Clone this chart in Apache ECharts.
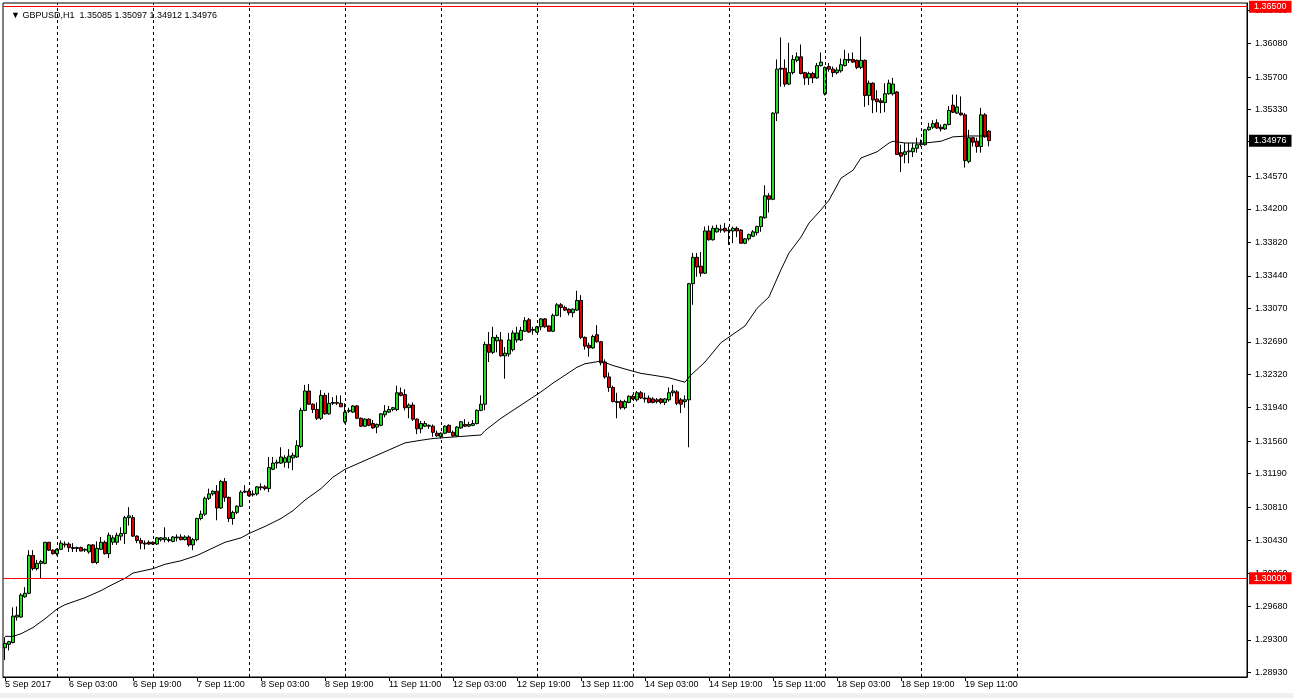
<!DOCTYPE html>
<html><head><meta charset="utf-8">
<script src="https://cdn.jsdelivr.net/npm/echarts@6/dist/echarts.min.js"></script>
<style>html,body{margin:0;padding:0;background:#fff;}#c{width:1293px;height:698px;}</style>
</head><body><div id="c"></div>
<script>
// ---------- DATA (GBPUSD H1, 5 Sep 2017 11:00 -> 19 Sep 2017 17:00) ----------
const openP = [1.2921,1.2925,1.2927,1.2956,1.2956,1.2979,1.2983,1.3026,1.3011,1.3017,
1.3017,1.3041,1.3032,1.3028,1.3033,1.3038,1.3039,1.3035,1.3034,1.3035,
1.3032,1.3030,1.3038,1.3018,1.3033,1.3041,1.3028,1.3041,1.3041,1.3048,
1.3051,1.3069,1.3069,1.3048,1.3043,1.3040,1.3041,1.3041,1.3039,1.3044,
1.3044,1.3044,1.3042,1.3046,1.3047,1.3044,1.3047,1.3038,1.3044,1.3068,
1.3073,1.3091,1.3096,1.3099,1.3080,1.3110,1.3092,1.3068,1.3075,1.3082,
1.3098,1.3099,1.3096,1.3096,1.3104,1.3104,1.3102,1.3124,1.3131,1.3131,
1.3132,1.3132,1.3137,1.3138,1.3150,1.3191,1.3213,1.3198,1.3192,1.3182,
1.3208,1.3187,1.3199,1.3199,1.3199,1.3178,1.3190,1.3189,1.3196,1.3182,
1.3173,1.3181,1.3176,1.3172,1.3174,1.3186,1.3189,1.3192,1.3192,1.3211,
1.3209,1.3194,1.3197,1.3181,1.3170,1.3173,1.3173,1.3173,1.3165,1.3161,
1.3165,1.3174,1.3166,1.3162,1.3171,1.3175,1.3173,1.3174,1.3176,1.3191,
1.3198,1.3266,1.3257,1.3270,1.3271,1.3253,1.3255,1.3260,1.3271,1.3271,
1.3281,1.3294,1.3282,1.3280,1.3286,1.3295,1.3287,1.3281,1.3299,1.3311,
1.3308,1.3306,1.3302,1.3305,1.3316,1.3274,1.3265,1.3262,1.3277,1.3269,
1.3246,1.3229,1.3217,1.3201,1.3201,1.3194,1.3200,1.3207,1.3203,1.3211,
1.3205,1.3205,1.3204,1.3203,1.3204,1.3200,1.3203,1.3211,1.3212,1.3203,
1.3201,1.3203,1.3335,1.3365,1.3355,1.3347,1.3395,1.3385,1.3394,1.3396,
1.3398,1.3395,1.3395,1.3398,1.3396,1.3381,1.3386,1.3389,1.3393,1.3400,
1.3410,1.3435,1.3431,1.3529,1.3580,1.3580,1.3562,1.3575,1.3589,1.3593,
1.3575,1.3569,1.3574,1.3569,1.3583,1.3551,1.3582,1.3579,1.3575,1.3577,
1.3583,1.3589,1.3590,1.3589,1.3581,1.3589,1.3549,1.3563,1.3545,1.3543,
1.3541,1.3551,1.3551,1.3553,1.3484,1.3482,1.3485,1.3485,1.3489,1.3493,
1.3493,1.3510,1.3513,1.3518,1.3513,1.3511,1.3516,1.3538,1.3529,1.3529,
1.3527,1.3474,1.3501,1.3497,1.3491,1.3527,1.35085];
const highP = [1.2933,1.2929,1.2967,1.2968,1.2983,1.2990,1.3032,1.3032,1.3021,1.3021,
1.3041,1.3041,1.3033,1.3034,1.3043,1.3042,1.3041,1.3040,1.3036,1.3036,
1.3034,1.3039,1.3039,1.3042,1.3047,1.3043,1.3052,1.3049,1.3052,1.3058,
1.3071,1.3081,1.3072,1.3049,1.3046,1.3043,1.3043,1.3042,1.3047,1.3047,
1.3058,1.3047,1.3048,1.3050,1.3050,1.3049,1.3049,1.3046,1.3069,1.3077,
1.3093,1.3102,1.3100,1.3106,1.3112,1.3114,1.3093,1.3077,1.3083,1.3100,
1.3106,1.3101,1.3100,1.3105,1.3108,1.3106,1.3138,1.3138,1.3135,1.3149,
1.3140,1.3147,1.3143,1.3157,1.3194,1.3220,1.3221,1.3199,1.3200,1.3214,
1.3211,1.3211,1.3206,1.3208,1.3208,1.3199,1.3194,1.3197,1.3197,1.3183,
1.3182,1.3182,1.3180,1.3176,1.3188,1.3197,1.3196,1.3195,1.3219,1.3217,
1.3215,1.3199,1.3200,1.3182,1.3179,1.3179,1.3175,1.3175,1.3168,1.3166,
1.3174,1.3175,1.3168,1.3173,1.3179,1.3181,1.3178,1.3180,1.3192,1.3208,
1.3269,1.3280,1.3286,1.3277,1.3280,1.3263,1.3279,1.3282,1.3286,1.3286,
1.3297,1.3296,1.3286,1.3287,1.3296,1.3296,1.3288,1.3301,1.3313,1.3313,
1.3310,1.3307,1.3307,1.3327,1.3322,1.3275,1.3268,1.3277,1.3288,1.3270,
1.3249,1.3234,1.3219,1.3211,1.3203,1.3203,1.3208,1.3209,1.3213,1.3213,
1.3211,1.3208,1.3206,1.3205,1.3205,1.3205,1.3217,1.3220,1.3214,1.3205,
1.3208,1.3336,1.3370,1.3370,1.3371,1.3400,1.3401,1.3401,1.3402,1.3402,
1.3404,1.3400,1.3400,1.3400,1.3397,1.3387,1.3392,1.3396,1.3401,1.3412,
1.3447,1.3438,1.3530,1.3590,1.3615,1.3590,1.3609,1.3595,1.3598,1.3607,
1.3576,1.3576,1.3576,1.3586,1.3598,1.3582,1.3586,1.3582,1.3581,1.3591,
1.3601,1.3597,1.3598,1.3590,1.3616,1.3590,1.3566,1.3564,1.3555,1.3546,
1.3563,1.3567,1.3569,1.3554,1.3493,1.3495,1.3495,1.3495,1.3501,1.3499,
1.3511,1.3518,1.3521,1.3522,1.3516,1.3517,1.3537,1.3550,1.3550,1.3548,
1.3529,1.3510,1.3502,1.3501,1.3535,1.3529,1.35097];
const lowP = [1.2907,1.2918,1.2926,1.2952,1.2955,1.2978,1.2982,1.3009,1.3009,1.3000,
1.3016,1.3031,1.3027,1.3026,1.3032,1.3035,1.3030,1.3030,1.3030,1.3031,
1.3030,1.3028,1.3017,1.3016,1.3032,1.3027,1.3023,1.3038,1.3038,1.3043,
1.3039,1.3060,1.3047,1.3040,1.3033,1.3033,1.3038,1.3038,1.3038,1.3042,
1.3041,1.3041,1.3041,1.3042,1.3043,1.3043,1.3036,1.3032,1.3042,1.3066,
1.3071,1.3089,1.3094,1.3066,1.3079,1.3087,1.3064,1.3061,1.3073,1.3081,
1.3097,1.3093,1.3093,1.3094,1.3100,1.3100,1.3098,1.3123,1.3125,1.3130,
1.3126,1.3125,1.3123,1.3137,1.3148,1.3190,1.3197,1.3188,1.3180,1.3180,
1.3186,1.3186,1.3197,1.3197,1.3195,1.3176,1.3188,1.3188,1.3181,1.3172,
1.3172,1.3173,1.3170,1.3165,1.3173,1.3183,1.3188,1.3190,1.3190,1.3207,
1.3191,1.3182,1.3179,1.3164,1.3165,1.3172,1.3170,1.3161,1.3161,1.3159,
1.3164,1.3166,1.3161,1.3161,1.3170,1.3172,1.3172,1.3173,1.3175,1.3190,
1.3191,1.3246,1.3255,1.3257,1.3252,1.3227,1.3252,1.3258,1.3268,1.3270,
1.3280,1.3279,1.3277,1.3279,1.3282,1.3285,1.3281,1.3280,1.3298,1.3297,
1.3304,1.3299,1.3297,1.3304,1.3272,1.3260,1.3252,1.3261,1.3268,1.3242,
1.3227,1.3212,1.3200,1.3182,1.3192,1.3192,1.3199,1.3203,1.3201,1.3204,
1.3200,1.3199,1.3199,1.3199,1.3198,1.3197,1.3201,1.3207,1.3197,1.3188,
1.3194,1.3149,1.3311,1.3343,1.3343,1.3346,1.3384,1.3384,1.3393,1.3393,
1.3393,1.3379,1.3381,1.3388,1.3381,1.3380,1.3384,1.3388,1.3390,1.3394,
1.3409,1.3416,1.3430,1.3520,1.3559,1.3559,1.3561,1.3573,1.3587,1.3573,
1.3561,1.3561,1.3563,1.3568,1.3582,1.3549,1.3576,1.3570,1.3573,1.3575,
1.3582,1.3586,1.3586,1.3579,1.3579,1.3536,1.3538,1.3529,1.3530,1.3529,
1.3530,1.3550,1.3549,1.3482,1.3462,1.3472,1.3472,1.3479,1.3484,1.3491,
1.3492,1.3509,1.3511,1.3511,1.3508,1.3510,1.3515,1.3529,1.3528,1.3526,
1.3467,1.3472,1.3491,1.3484,1.3484,1.3501,1.34912];
const closeP = [1.2926,1.2928,1.2957,1.2958,1.2981,1.2983,1.3026,1.3011,1.3017,1.3019,
1.3041,1.3032,1.3028,1.3033,1.3040,1.3039,1.3035,1.3034,1.3035,1.3031,
1.3033,1.3038,1.3018,1.3034,1.3041,1.3028,1.3049,1.3046,1.3049,1.3051,
1.3069,1.3071,1.3048,1.3043,1.3040,1.3039,1.3039,1.3039,1.3046,1.3046,
1.3046,1.3043,1.3047,1.3047,1.3044,1.3047,1.3038,1.3044,1.3068,1.3073,
1.3091,1.3096,1.3099,1.3080,1.3110,1.3092,1.3068,1.3075,1.3082,1.3098,
1.3099,1.3094,1.3095,1.3104,1.3103,1.3102,1.3126,1.3131,1.3132,1.3138,
1.3137,1.3139,1.3140,1.3151,1.3191,1.3213,1.3198,1.3192,1.3182,1.3208,
1.3187,1.3199,1.3200,1.3200,1.3195,1.3189,1.3191,1.3196,1.3182,1.3173,
1.3181,1.3174,1.3171,1.3175,1.3187,1.3190,1.3192,1.3194,1.3211,1.3208,
1.3194,1.3197,1.3181,1.3170,1.3176,1.3176,1.3174,1.3166,1.3162,1.3165,
1.3173,1.3166,1.3162,1.3172,1.3178,1.3173,1.3175,1.3176,1.3191,1.3198,
1.3266,1.3257,1.3274,1.3274,1.3253,1.3256,1.3271,1.3279,1.3279,1.3282,
1.3293,1.3280,1.3283,1.3286,1.3295,1.3286,1.3281,1.3299,1.3311,1.3308,
1.3305,1.3302,1.3306,1.3316,1.3274,1.3264,1.3262,1.3275,1.3269,1.3245,
1.3229,1.3217,1.3201,1.3200,1.3194,1.3201,1.3207,1.3204,1.3211,1.3205,
1.3204,1.3200,1.3200,1.3201,1.3200,1.3204,1.3211,1.3213,1.3199,1.3198,
1.3203,1.3335,1.3365,1.3354,1.3347,1.3395,1.3385,1.3398,1.3398,1.3397,
1.3395,1.3396,1.3398,1.3395,1.3381,1.3386,1.3391,1.3394,1.3400,1.3411,
1.3435,1.3431,1.3529,1.3579,1.3579,1.3562,1.3575,1.3590,1.3593,1.3574,
1.3569,1.3574,1.3569,1.3583,1.3587,1.3581,1.3579,1.3575,1.3578,1.3584,
1.3590,1.3590,1.3587,1.3581,1.3589,1.3549,1.3563,1.3544,1.3542,1.3541,
1.3551,1.3563,1.3562,1.3482,1.3480,1.3485,1.3486,1.3489,1.3493,1.3494,
1.3510,1.3513,1.3517,1.3512,1.3511,1.3516,1.3532,1.3530,1.3536,1.3527,
1.3475,1.3501,1.3496,1.3491,1.3527,1.3502,1.34976];

// moving average read at selected bars (bar index -> value)
const maBars = [0,2,4,7,10,13,15,20,24,26,30,32,37,40,44,48,55,59,61,65,69,72,75,79,82,85,89,92,96,100,104,107,113,119,120,124,127,130,134,137,140,143,145,149,152,155,159,162,166,170,171,175,179,185,188,191,194,196,199,201,204,206,209,212,214,218,221,222,225,230,234,237,241,246];
const maValues = [1.2934,1.2934,1.2937,1.2944,1.2954,1.2965,1.2970,1.2978,1.2986,1.2991,1.3000,1.3006,1.3011,1.3016,1.3020,1.3026,1.3041,1.3046,1.3051,1.3059,1.3068,1.3077,1.3089,1.3102,1.3115,1.3124,1.3132,1.3138,1.3146,1.3154,1.3157,1.3159,1.3161,1.3163,1.3168,1.3182,1.3191,1.3200,1.3212,1.3222,1.3231,1.3240,1.3244,1.3247,1.3242,1.3238,1.3233,1.3231,1.3228,1.3223,1.3229,1.3246,1.3268,1.3287,1.3307,1.3320,1.3351,1.3370,1.3388,1.3404,1.3419,1.3430,1.3455,1.3464,1.3478,1.3485,1.3495,1.3497,1.3495,1.3495,1.3497,1.3502,1.3503,1.3503];

const yTickLabels = ['1.28930','1.29300','1.29680','1.30060','1.30430','1.30810','1.31190','1.31560','1.31940','1.32320','1.32690','1.33070','1.33440','1.33820','1.34200','1.34570','1.34970','1.35330','1.35700','1.36080','1.36460'];
const xTickLabels = ['5 Sep 2017','6 Sep 03:00','6 Sep 19:00','7 Sep 11:00','8 Sep 03:00','8 Sep 19:00','11 Sep 11:00','12 Sep 03:00','12 Sep 19:00','13 Sep 11:00','14 Sep 03:00','14 Sep 19:00','15 Sep 11:00','18 Sep 03:00','18 Sep 19:00','19 Sep 11:00'];
const levelLines = [1.36500, 1.30000];
const lastPrice = 1.34976;
const headerText = 'GBPUSD,H1  1.35085 1.35097 1.34912 1.34976';

// ---------- categories: hourly bars, weekends skipped, plus empty chart shift ----------
const N_BARS = openP.length;
const N_SLOTS = 311;
const cats = [], hours = [];
{
  let t = Date.UTC(2017, 8, 5, 11);
  while (cats.length < N_SLOTS) {
    const d = new Date(t), wd = d.getUTCDay();
    if (wd !== 0 && wd !== 6) {
      cats.push(d.getUTCFullYear() + '.' + (d.getUTCMonth() + 1) + '.' + d.getUTCDate() + ' ' + d.getUTCHours() + ':00');
      hours.push(d.getUTCHours());
    }
    t += 3600000;
  }
}
const candles = openP.map((o, i) => [o, closeP[i], lowP[i], highP[i]]);
const maLine = new Array(N_BARS).fill(null);
maBars.forEach((b, k) => { maLine[b] = maValues[k]; });

const FONT = 'Liberation Sans, Arial, sans-serif';
const sepLines = [];
hours.forEach((h, i) => { if (h === 0 && i < N_BARS + 24) sepLines.push({ xAxis: cats[i] }); });

const lvlLabel = (txt, bg) => ({
  show: true, position: 'end', distance: 2, formatter: txt,
  backgroundColor: bg, color: '#fff', fontSize: 9, fontFamily: FONT,
  padding: [2, 5, 1, 5]
});

const chart = echarts.init(document.getElementById('c'), null, { renderer: 'canvas' });
chart.setOption({
  animation: false,
  backgroundColor: '#fff',
  graphic: [
    { type: 'rect', left: 0, top: 693, shape: { width: 1293, height: 5 }, style: { fill: '#f0f0f0' }, silent: true, z: -1 }
  ],
  grid: { left: 3, top: 3, width: 1244, height: 674, show: true, borderColor: '#000', borderWidth: 1, backgroundColor: '#fff' },
  title: {
    text: '\u25BC ' + headerText, left: 6, top: 6,
    textStyle: { fontSize: 9, fontWeight: 'normal', color: '#000', fontFamily: FONT }
  },
  xAxis: {
    type: 'category', data: cats, boundaryGap: true,
    axisLine: { show: true, lineStyle: { color: '#000', width: 1 } },
    axisTick: { show: true, length: 4, alignWithLabel: true, interval: (i) => i % 16 === 0 && i < N_BARS, lineStyle: { color: '#000' } },
    axisLabel: {
      interval: (i) => i % 16 === 0 && i < N_BARS, align: 'left', margin: 3,
      fontSize: 9, color: '#000', fontFamily: FONT,
      formatter: (v, i) => xTickLabels[i / 16] || ''
    },
    splitLine: { show: false }
  },
  yAxis: {
    type: 'value', position: 'right', min: 1.28878, max: 1.36542, scale: true,
    axisLine: { show: true, lineStyle: { color: '#000', width: 1 } },
    axisTick: { show: true, length: 4, customValues: yTickLabels.map(Number), lineStyle: { color: '#000' } },
    axisLabel: {
      customValues: yTickLabels.map(Number), margin: 8, fontSize: 9, color: '#000', fontFamily: FONT,
      formatter: (v) => v.toFixed(5)
    },
    splitLine: { show: false }
  },
  series: [
    {
      type: 'candlestick', data: candles, barWidth: 3,
      itemStyle: { color: '#22dd22', color0: '#e00000', borderColor: '#000', borderColor0: '#000', borderWidth: 1 },
      markLine: {
        symbol: ['none', 'none'], silent: true, animation: false, precision: 5,
        data: [
          ...sepLines.map(s => ({ ...s, label: { show: false }, lineStyle: { color: '#000', type: [3, 3], width: 1 } })),
          { yAxis: levelLines[0], lineStyle: { color: '#ff0000', type: 'solid', width: 1 }, label: lvlLabel(levelLines[0].toFixed(5), '#ff0000') },
          { yAxis: levelLines[1], lineStyle: { color: '#ff0000', type: 'solid', width: 1 }, label: lvlLabel(levelLines[1].toFixed(5), '#ff0000') },
          { yAxis: lastPrice, lineStyle: { color: 'rgba(0,0,0,0)', width: 0 }, label: lvlLabel(lastPrice.toFixed(5), '#000') }
        ]
      }
    },
    {
      type: 'line', data: maLine, connectNulls: true, showSymbol: false, symbol: 'none', smooth: false,
      lineStyle: { color: '#000', width: 1 }, z: 3
    }
  ]
});
</script></body></html>
